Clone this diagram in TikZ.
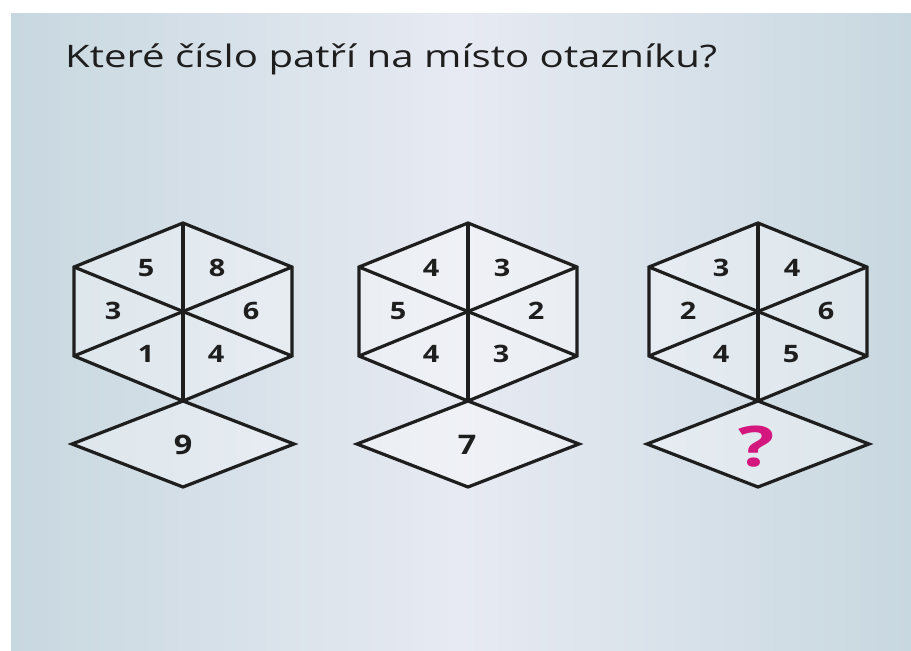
\documentclass[tikz,border=0pt]{standalone}
\usepackage{fontspec}
\setmainfont{Open Sans}
\usepackage{graphicx}
\definecolor{bgedge}{HTML}{C8D8E0}
\definecolor{bgmid}{HTML}{E7EAF2}
\definecolor{ink}{HTML}{1E1E1E}
\definecolor{qmark}{HTML}{D4177E}
\tikzset{
  edge/.style={draw=ink, line width=3.2pt, line join=miter},
  cellfill/.style={fill=white, fill opacity=0.35},
  digit/.style={text=ink, inner sep=0pt, xscale=1.2, font=\fontsize{24}{24}\selectfont\bfseries},
}
\newcommand{\hexpz}[8]{%
  \coordinate (#1t)  at (#2,223);
  \coordinate (#1ul) at (#2-109,267);
  \coordinate (#1ur) at (#2+109,267);
  \coordinate (#1ll) at (#2-109,356);
  \coordinate (#1lr) at (#2+109,356);
  \coordinate (#1b)  at (#2,401);
  \coordinate (#1c)  at (#2,312);
  \coordinate (#1dl) at (#2-111,444);
  \coordinate (#1dr) at (#2+111,444);
  \coordinate (#1db) at (#2,487);
  \path[cellfill] (#1t) -- (#1ur) -- (#1lr) -- (#1b) -- (#1ll) -- (#1ul) -- cycle;
  \path[cellfill] (#1b) -- (#1dr) -- (#1db) -- (#1dl) -- cycle;
  \draw[edge] (#1t) -- (#1ur) -- (#1lr) -- (#1b) -- (#1ll) -- (#1ul) -- cycle;
  \draw[edge] (#1t) -- (#1b);
  \draw[edge] (#1ul) -- (#1lr);
  \draw[edge] (#1ur) -- (#1ll);
  \draw[edge] (#1b) -- (#1dr) -- (#1db) -- (#1dl) -- cycle;
  \node[digit] (#1n1) at (#2-37,268) {#3};
  \node[digit] (#1n2) at (#2+34,268) {#4};
  \node[digit] (#1n3) at (#2-70,311) {#5};
  \node[digit] (#1n4) at (#2+68,311) {#6};
  \node[digit] (#1n5) at (#2-37,354) {#7};
  \node[digit] (#1n6) at (#2+33,354) {#8};
}
\begin{document}
\begin{tikzpicture}[x=1pt,y=-1pt]
\useasboundingbox (0,0) rectangle (911,651);
\fill[white] (0,0) rectangle (911,651);
\shade[left color=bgedge, right color=bgedge, middle color=bgmid] (11,13) rectangle (911,651);
\node[anchor=base west, inner sep=0pt, text=ink] (title) at (65,67)
  {\resizebox{652pt}{\height}{\fontsize{31}{36}\selectfont Které číslo patří na místo otazníku?}};
\hexpz{a}{183}{5}{8}{3}{6}{1}{4}
\hexpz{b}{468}{4}{3}{5}{2}{4}{3}
\hexpz{c}{758}{3}{4}{2}{6}{4}{5}
\node[digit, font=\fontsize{27}{27}\selectfont\bfseries] (ares) at (183,445) {9};
\node[digit, font=\fontsize{27}{27}\selectfont\bfseries] (bres) at (467,445) {7};
\node[inner sep=0pt, text=qmark, xscale=1.35, font=\fontsize{56}{56}\selectfont\bfseries] (cres) at (757,447) {?};
\end{tikzpicture}
\end{document}
